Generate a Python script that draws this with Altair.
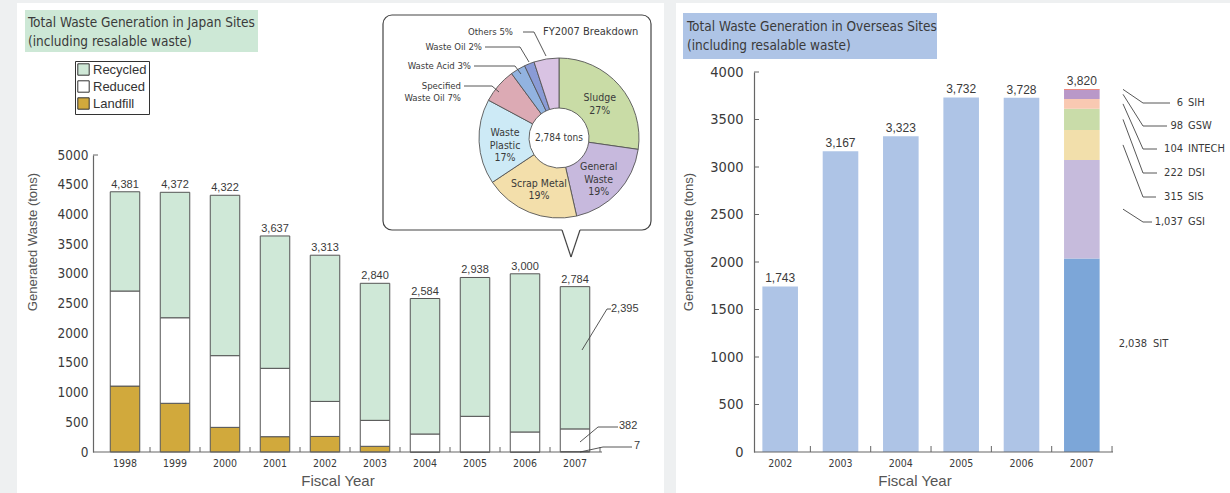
import altair as alt
import pandas as pd

NARROW = "DejaVu Sans Condensed, Liberation Sans Narrow, sans-serif"
REG = "Liberation Sans, Arial, Helvetica, sans-serif"
TXT = "#3a3a3a"
AXC = "#666666"

# ---------------- Japan sites ----------------
jp_years = ["1998", "1999", "2000", "2001", "2002", "2003", "2004", "2005", "2006", "2007"]
jp_totals = [4381, 4372, 4322, 3637, 3313, 2840, 2584, 2938, 3000, 2784]
jp_landfill = [1110, 820, 415, 258, 262, 96, 0, 0, 0, 7]
jp_reduced = [1600, 1440, 1207, 1151, 590, 437, 303, 601, 337, 382]
jp_recycled = [1671, 2112, 2700, 2228, 2461, 2307, 2281, 2337, 2663, 2395]
jp_cats = ["Recycled", "Reduced", "Landfill"]
jp_colors = ["#cfe8d7", "#ffffff", "#d1a93c"]

# ---------------- FY2007 breakdown ----------------
pie_cats = ["Sludge", "General Waste", "Scrap Metal", "Waste Plastic",
            "Specified Waste Oil", "Waste Acid", "Waste Oil", "Others"]
pie_pct = [27, 19, 19, 17, 7, 3, 2, 5]
pie_inner = ["Sludge\n27%", "General\nWaste\n19%", "Scrap Metal\n19%", "Waste\nPlastic\n17%", "", "", "", ""]
pie_colors = ["#c9dca6", "#c7b9dd", "#f3dfab", "#cdeaf6", "#dcaab4", "#92b3e0", "#8a9bd6", "#d9c3e3"]

# ---------------- Overseas sites ----------------
ov_years = ["2002", "2003", "2004", "2005", "2006", "2007"]
ov_totals = [1743, 3167, 3323, 3732, 3728, 3820]
ov_sites = ["SIT", "GSI", "SIS", "DSI", "INTECH", "GSW", "SIH"]
ov_2007 = [2038, 1037, 315, 222, 104, 98, 6]
ov_colors = ["#aec4e6", "#7ca6d8", "#c6bbdc", "#f2dfab", "#c9dca9", "#f9c9b2", "#b998c8", "#ee6b58"]

# ---------------- data frames ----------------
jp_rows = []
for i, y in enumerate(jp_years):
    jp_rows.append({"year": y, "cat": "Landfill", "value": jp_landfill[i], "ord": 0})
    jp_rows.append({"year": y, "cat": "Reduced", "value": jp_reduced[i], "ord": 1})
    jp_rows.append({"year": y, "cat": "Recycled", "value": jp_recycled[i], "ord": 2})
jp_df = pd.DataFrame(jp_rows)
jp_tot_df = pd.DataFrame({"year": jp_years, "total": jp_totals,
                          "label": [f"{v:,}" for v in jp_totals]})

ov_rows = []
for i, y in enumerate(ov_years[:-1]):
    ov_rows.append({"year": y, "site": "All", "value": ov_totals[i], "ord": 0})
for j, s in enumerate(ov_sites):
    ov_rows.append({"year": "2007", "site": s, "value": ov_2007[j], "ord": j})
ov_df = pd.DataFrame(ov_rows)
ov_tot_df = pd.DataFrame({"year": ov_years, "total": ov_totals,
                          "label": [f"{v:,}" for v in ov_totals]})

pie_df = pd.DataFrame({
    "cat": pie_cats, "pct": pie_pct,
    "lbl2": [t if t.count("\n") == 1 else "" for t in pie_inner],
    "lbl3": [t if t.count("\n") == 2 else "" for t in pie_inner],
    "ord": list(range(len(pie_cats))),
})

# ---------------- shared encodings ----------------
def jp_x(field="year", **kw):
    return alt.X(f"{field}:N",
                 scale=alt.Scale(domain=jp_years, range=[100, 600], paddingInner=0.41, paddingOuter=0.205),
                 axis=alt.Axis(orient="bottom", offset=-41, title=None, domain=False, ticks=False,
                               labelAngle=0, labelFont=NARROW, labelFontSize=10.5, labelColor=TXT,
                               labelPadding=6, zindex=2),
                 **kw)

def jp_y(field, **kw):
    return alt.Y(f"{field}:Q",
                 scale=alt.Scale(domain=[0, 5000], range=[452, 155], nice=False, zero=True),
                 axis=alt.Axis(orient="left", offset=-93, title=None, ticks=False, grid=False,
                               values=list(range(0, 5001, 500)), format="d",
                               domainColor=AXC, domainWidth=1.2,
                               labelFont=NARROW, labelFontSize=13.5, labelColor=TXT, labelPadding=5,
                               zindex=2),
                 **kw)

def ov_x(field="year", **kw):
    return alt.X(f"{field}:N",
                 scale=alt.Scale(domain=ov_years, range=[750, 1112], paddingInner=0.41, paddingOuter=0.205),
                 axis=alt.Axis(orient="bottom", offset=-41, title=None, domain=False, ticks=False,
                               labelAngle=0, labelFont=NARROW, labelFontSize=10.5, labelColor=TXT,
                               labelPadding=6, zindex=2),
                 **kw)

def ov_y(field, **kw):
    return alt.Y(f"{field}:Q",
                 scale=alt.Scale(domain=[0, 4000], range=[452, 72], nice=False, zero=True),
                 axis=alt.Axis(orient="left", offset=-754, title=None, ticks=False, grid=False,
                               values=list(range(0, 4001, 500)), format="d",
                               domainColor=AXC, domainWidth=1.2,
                               labelFont=NARROW, labelFontSize=14.5, labelColor=TXT, labelPadding=11,
                               zindex=2),
                 **kw)

def rule(x, y, x2, y2, color="#444", w=0.9):
    return alt.Chart().mark_rule(color=color, strokeWidth=w).encode(
        x=alt.value(x), y=alt.value(y), x2=alt.value(x2), y2=alt.value(y2))

def text(t, x, y, size=12, font=NARROW, align="left", color=TXT, angle=0, lh=None, baseline="middle"):
    kw = {}
    if lh is not None:
        kw["lineHeight"] = lh
    return alt.Chart().mark_text(text=t, font=font, fontSize=size, align=align, color=color,
                                 angle=angle, baseline=baseline, **kw).encode(
        x=alt.value(x), y=alt.value(y))

def box(x, y, x2, y2, fill, stroke=None, r=0):
    kw = {}
    if stroke:
        kw["stroke"] = stroke
        kw["strokeWidth"] = 1.2
    if r:
        kw["cornerRadius"] = r
    return alt.Chart().mark_rect(fill=fill, **kw).encode(
        x=alt.value(x), y=alt.value(y), x2=alt.value(x2), y2=alt.value(y2))

# ---------------- Japan group ----------------
jp_bars = alt.Chart(jp_df).mark_bar(stroke="#555555", strokeWidth=1).encode(
    x=jp_x(),
    y=jp_y("value", stack="zero"),
    color=alt.Color("cat:N", scale=alt.Scale(domain=jp_cats, range=jp_colors),
                    legend=alt.Legend(orient="none", legendX=75, legendY=61, title=None,
                                      symbolType="square", symbolSize=130,
                                      symbolStrokeColor="#333333", symbolStrokeWidth=1,
                                      labelFont=REG, labelFontSize=13, labelColor="#333333",
                                      strokeColor="#333333", fillColor="white", padding=2,
                                      rowPadding=0, labelOffset=3)),
    order=alt.Order("ord:Q"),
)
jp_tot = alt.Chart(jp_tot_df).mark_text(dy=-7, font=REG, fontSize=11, color=TXT).encode(
    x=jp_x(), y=jp_y("total"), text="label:N")
jp_ticks = alt.Chart(pd.DataFrame({"year": jp_years})).mark_rule(color=AXC, xOffset=10.25).encode(
    x=jp_x(bandPosition=1), y=alt.value(447), y2=alt.value(452))
jp_ytick = alt.Chart(pd.DataFrame({"v": [5000]})).mark_rule(color=AXC).encode(
    y=jp_y("v"), x=alt.value(93), x2=alt.value(98))
japan = alt.layer(jp_bars, jp_tot, jp_ticks, jp_ytick)

# ---------------- Overseas group ----------------
ov_bars = alt.Chart(ov_df).mark_bar().encode(
    x=ov_x(),
    y=ov_y("value", stack="zero"),
    color=alt.Color("site:N", scale=alt.Scale(domain=["All"] + ov_sites, range=ov_colors), legend=None),
    order=alt.Order("ord:Q"),
)
ov_tot = alt.Chart(ov_tot_df).mark_text(dy=-8, font=REG, fontSize=12, color=TXT).encode(
    x=ov_x(), y=ov_y("total"), text="label:N")
ov_ticks = alt.Chart(pd.DataFrame({"year": ov_years})).mark_rule(color=AXC, xOffset=12.4).encode(
    x=ov_x(bandPosition=1), y=alt.value(446), y2=alt.value(452))
ov_yticks = alt.Chart(pd.DataFrame({"v": list(range(500, 4001, 500))})).mark_rule(color=AXC).encode(
    y=ov_y("v"), x=alt.value(754), x2=alt.value(759))

ov_label_y = [344, 222, 197, 173, 149, 126, 103]
ov_leaders = []
cum = 0
for j, s in enumerate(ov_sites):
    mid = cum + ov_2007[j] / 2
    cum += ov_2007[j]
    if j == 0:
        continue
    ov_leaders.append(
        alt.Chart(pd.DataFrame({"mid": [mid]})).mark_rule(color="#444", strokeWidth=0.9).encode(
            y=ov_y("mid"), y2=alt.value(ov_label_y[j]), x=alt.value(1123), x2=alt.value(1143)))
overseas = alt.layer(ov_bars, ov_tot, ov_ticks, ov_yticks, *ov_leaders)

# ---------------- Pie group ----------------
PCX, PCY = 559, 138
PLH = 12.5
pie_theta = alt.Theta("pct:Q", stack=True)
pie_arcs = alt.Chart(pie_df).mark_arc(radius=80, radius2=30, stroke="#555555", strokeWidth=0.9).encode(
    theta=pie_theta,
    color=alt.Color("cat:N", scale=alt.Scale(domain=pie_cats, range=pie_colors), legend=None),
    order=alt.Order("ord:Q"),
    x=alt.value(PCX), y=alt.value(PCY),
)
pie_txt2 = alt.Chart(pie_df).mark_text(radius=54, font=NARROW, fontSize=10.5, color=TXT, dy=-PLH / 2 + 2,
                                       lineBreak="\n", lineHeight=PLH, baseline="middle").encode(
    theta=pie_theta, order=alt.Order("ord:Q"), text="lbl2:N",
    x=alt.value(PCX), y=alt.value(PCY),
)
pie_txt3 = alt.Chart(pie_df).mark_text(radius=54, font=NARROW, fontSize=10.5, color=TXT, dy=-PLH + 5,
                                       lineBreak="\n", lineHeight=PLH, baseline="middle").encode(
    theta=pie_theta, order=alt.Order("ord:Q"), text="lbl3:N",
    x=alt.value(PCX), y=alt.value(PCY),
)
pie = alt.layer(pie_arcs, pie_txt2, pie_txt3)

# ---------------- decorations ----------------
deco_back = [
    box(17, 3, 664, 493, "white"),
    box(676, 3, 1230, 493, "white"),
    box(25, 10, 258, 52, "#cde8d6"),
    box(683, 13, 937, 59, "#aec4e6"),
    box(383, 15, 651, 230, "white", stroke="#444444", r=9),
    rule(562, 230, 580, 230, color="white", w=3),
    rule(562, 230, 571, 257, color="#444", w=1.2),
    rule(580, 230, 571, 257, color="#444", w=1.2),
]

deco_front = [
    text(["Total Waste Generation in Japan Sites", "(including resalable waste)"], 28, 22.5, size=13.5, lh=19.5),
    text(["Total Waste Generation in Overseas Sites", "(including resalable waste)"], 687, 26.5, size=13.5, lh=19),
    rule(93, 452, 602, 452, color=AXC, w=1.2),
    rule(754, 452, 1113, 452, color=AXC, w=1.2),
    text("Generated Waste (tons)", 33, 242, size=13, font=REG, align="center", color="#555", angle=270),
    text("Generated Waste (tons)", 689, 242, size=13, font=REG, align="center", color="#555", angle=270),
    text("Fiscal Year", 338, 481, size=15, font=REG, align="center", color="#555"),
    text("Fiscal Year", 915, 481, size=15, font=REG, align="center", color="#555"),
    # pie annotations
    text(f"{jp_totals[-1]:,} tons", PCX, PCY, size=10, align="center"),
    text("FY2007 Breakdown", 543, 32, size=11),
    text(f"Others {pie_pct[7]}%", 513, 32, size=9.5, align="right"),
    rule(523, 32, 534, 32), rule(534, 32, 546, 56),
    text(f"Waste Oil {pie_pct[6]}%", 482, 47, size=9.5, align="right"),
    rule(485, 47, 520, 47), rule(520, 47, 529, 62),
    text(f"Waste Acid {pie_pct[5]}%", 471, 66, size=9.5, align="right"),
    rule(474, 66, 515, 66), rule(515, 66, 521, 74),
    text(["Specified", f"Waste Oil {pie_pct[4]}%"], 461, 86, size=9.5, align="right", lh=12),
    rule(464, 86, 492, 86), rule(492, 86, 499, 92),
    # Japan 2007 annotations
    text(f"{jp_recycled[-1]:,}", 611, 309, size=11, font=REG),
    rule(582, 350, 607, 309), rule(607, 309, 611, 309),
    text(f"{jp_reduced[-1]:,}", 619, 426, size=11, font=REG),
    rule(580, 442, 598, 427), rule(598, 427, 618, 427),
    text(f"{jp_landfill[-1]:,}", 634, 446, size=11, font=REG),
    rule(580, 452, 603, 447), rule(603, 447, 632, 447),
]
# Overseas labels
ov_hx = [None, 1152, 1156, 1157, 1157, 1167, 1170]
for j, s in enumerate(ov_sites):
    if j == 0:
        deco_front.append(text(f"{ov_2007[j]:,}", 1147, ov_label_y[j], size=11, align="right"))
        deco_front.append(text(s, 1153, ov_label_y[j], size=11))
    else:
        deco_front.append(rule(1143, ov_label_y[j], ov_hx[j], ov_label_y[j]))
        deco_front.append(text(f"{ov_2007[j]:,}", 1183, ov_label_y[j], size=11, align="right"))
        deco_front.append(text(s, 1188, ov_label_y[j], size=11))

chart = alt.layer(*deco_back, japan, overseas, pie, *deco_front).resolve_scale(
    x="independent", y="independent", color="independent", theta="independent"
).properties(
    width=1230, height=493, autosize=alt.AutoSizeParams(type="none"), padding=0,
    background="#eef0f1",
).configure_view(stroke=None)

chart.save("out.html", embed_options={"renderer": "svg", "actions": False})
